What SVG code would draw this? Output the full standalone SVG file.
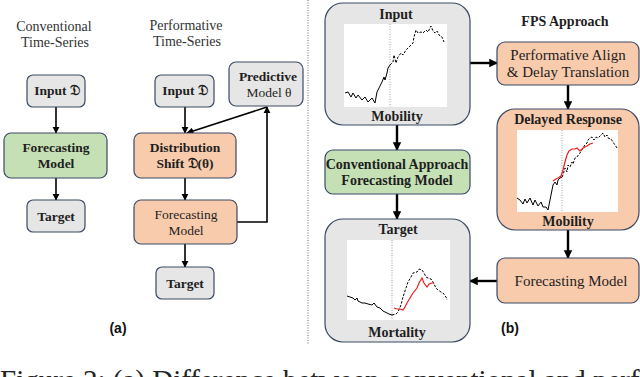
<svg xmlns="http://www.w3.org/2000/svg" width="640" height="377" viewBox="0 0 640 377">
<defs>
<style>
.gray{fill:#e7e6e6;stroke:#3b4a66;stroke-width:1.2}
.green{fill:#c5e0b4;stroke:#3b4a66;stroke-width:1.2}
.orange{fill:#f8cbad;stroke:#3b4a66;stroke-width:1.2}
.t{font-family:"Liberation Serif","DejaVu Serif",serif;font-weight:bold;fill:#1e1e1e;text-anchor:middle}
.n{font-weight:normal}
.s13{font-size:13.5px}
.s14{font-size:14px}
.s15{font-size:15px}
.hd{font-family:"Liberation Serif","DejaVu Serif",serif;font-size:14px;fill:#333;text-anchor:middle}
.lab{font-family:"Liberation Sans",Arial,sans-serif;font-weight:bold;font-size:14px;fill:#111;text-anchor:middle}
.c{stroke:#000;fill:none}
.a1{stroke-width:1.6;marker-end:url(#ah)}
.a2{stroke-width:2.4;marker-end:url(#ah2)}
.chart{fill:#fff}
.vd{stroke:#888;stroke-width:0.8;stroke-dasharray:1 1.5}
.ls{fill:none;stroke:#000;stroke-width:1}
.ld{fill:none;stroke:#000;stroke-width:1;stroke-dasharray:2.5 1.5}
.lr{fill:none;stroke:#ee1c1c;stroke-width:1.2}
</style>
<marker id="ah" viewBox="0 0 10 10" refX="9" refY="5" markerWidth="4.5" markerHeight="4.5" orient="auto" markerUnits="strokeWidth"><path d="M0,0 L10,5 L0,10 z" fill="#000"/></marker>
<marker id="ah2" viewBox="0 0 10 10" refX="9" refY="5" markerWidth="3.6" markerHeight="3.6" orient="auto" markerUnits="strokeWidth"><path d="M0,0 L10,5 L0,10 z" fill="#000"/></marker>
</defs>
<rect width="640" height="377" fill="#fff"/>

<!-- divider -->
<line x1="308" y1="0" x2="308" y2="344" stroke="#666" stroke-width="1" stroke-dasharray="1 1.5"/>

<!-- headings -->
<text class="hd" x="54" y="31">Conventional</text>
<text class="hd" x="55" y="47">Time-Series</text>
<text class="hd" x="186" y="30">Performative</text>
<text class="hd" x="187" y="46">Time-Series</text>
<text class="t s14" x="565" y="26">FPS Approach</text>

<!-- connectors -->
<g id="connectors">
<line class="c a1" x1="56" y1="107" x2="56" y2="133"/>
<line class="c a1" x1="56" y1="178" x2="56" y2="200"/>
<line class="c a1" x1="185" y1="107" x2="185" y2="133"/>
<line class="c a1" x1="267" y1="107" x2="187" y2="133"/>
<line class="c a1" x1="185" y1="178" x2="185" y2="200"/>
<line class="c a1" x1="185" y1="244" x2="185" y2="267"/>
<polyline class="c a1" points="237,222 267,222 267,107"/>
<line class="c a2" x1="470" y1="63" x2="497" y2="63"/>
<line class="c a2" x1="568" y1="85" x2="568" y2="109"/>
<line class="c a2" x1="397" y1="125" x2="397" y2="150"/>
<line class="c a2" x1="397" y1="194" x2="397" y2="219"/>
<line class="c a2" x1="568" y1="230" x2="568" y2="258"/>
<line class="c a2" x1="497" y1="281" x2="470" y2="281"/>
</g>

<!-- panel (a) conventional -->
<g id="conv-input"><rect class="gray" x="27" y="75" width="58" height="32" rx="6"/><text class="t s13" x="57" y="95">Input 𝔇</text></g>
<g id="conv-forecast"><rect class="green" x="4" y="133" width="103" height="45" rx="7"/><text class="t s13" x="56" y="152">Forecasting</text><text class="t s13" x="56" y="168">Model</text></g>
<g id="conv-target"><rect class="gray" x="27" y="200" width="58" height="32" rx="6"/><text class="t s13" x="56" y="221">Target</text></g>

<!-- panel (a) performative -->
<g id="perf-input"><rect class="gray" x="155" y="75" width="59" height="32" rx="6"/><text class="t s13" x="185" y="95">Input 𝔇</text></g>
<g id="perf-predictive"><rect class="gray" x="229" y="62" width="74" height="44" rx="7"/><text class="t s13" x="268" y="81">Predictive</text><text class="t s13 n" x="269" y="97">Model θ</text></g>
<g id="perf-shift"><rect class="orange" x="134" y="133" width="102" height="45" rx="7"/><text class="t s13" x="185" y="152">Distribution</text><text class="t s13" x="185" y="168">Shift 𝔇(θ)</text></g>
<g id="perf-forecast"><rect class="orange" x="134" y="200" width="103" height="44" rx="7"/><text class="t s13 n" x="186" y="219">Forecasting</text><text class="t s13 n" x="186" y="235">Model</text></g>
<g id="perf-target"><rect class="gray" x="156" y="267" width="58" height="32" rx="6"/><text class="t s13" x="185" y="288">Target</text></g>
<text class="lab" x="118" y="333">(a)</text>

<!-- panel (b) -->
<g id="fps-input">
<rect class="gray" x="325" y="3" width="145" height="122" rx="18"/>
<text class="t s14" x="396" y="19">Input</text>
<rect class="chart" x="344" y="24" width="103" height="83"/>
<line class="vd" x1="390" y1="24" x2="390" y2="107"/>
<polyline class="ls" points="345,93 348,92 351,97 353,93 356,98 358,95 362,100 365,97 368,102 372,98 375,103 377,92 379,88 382,82 384,77 385,80 387,73 388,68 390,65"/>
<polyline class="ld" points="390,65 393,62 394,55 396,63 398,57 401,53 403,55 406,50 408,48 411,45 413,43 414,37 416,30 418,33 421,32 423,33 426,30 428,32 431,26 433,31 435,33 437,31 439,35 442,37 444,42"/>
<text class="t s14" x="397" y="121">Mobility</text>
</g>

<g id="fps-align"><rect class="orange" x="497" y="42" width="142" height="43" rx="8"/><text class="t s15 n" x="568" y="60">Performative Align</text><text class="t s15 n" x="568" y="77">&amp; Delay Translation</text></g>

<g id="fps-delayed">
<rect class="orange" x="497" y="109" width="142" height="121" rx="18"/>
<text class="t s14" x="568" y="124">Delayed Response</text>
<rect class="chart" x="517" y="130" width="101" height="82"/>
<line class="vd" x1="562" y1="130" x2="562" y2="212"/>
<polyline class="ls" points="517,198 520,200 523,204 525,199 527,203 530,198 533,205 535,200 538,206 541,202 543,207 546,207 548,210 550,200 552,190 553,185 555,182 557,185 558,180 560,178 562,177"/>
<polyline class="ld" points="562,177 563,175 565,168 567,172 568,165 570,167 572,162 573,164 575,158 577,157 580,153 583,148 585,145 587,143 588,140 590,138 592,137 594,140 596,137 598,138 601,135 603,133 605,137 607,135 608,138 611,139 613,142 615,145 617,148"/>
<polyline class="lr" points="553,181 556,179 558,178 561,176 563,170 565,162 567,155 569,151 572,149 575,149 577,148 580,151 583,148 585,147 587,146 590,144 593,143"/>
<text class="t s14" x="568" y="226">Mobility</text>
</g>

<g id="fps-forecast"><rect class="orange" x="497" y="258" width="142" height="45" rx="8"/><text class="t s15 n" x="571" y="286">Forecasting Model</text></g>

<g id="conv-approach"><rect class="green" x="325" y="150" width="145" height="44" rx="8"/><text class="t s14" x="397" y="169">Conventional Approach</text><text class="t s14" x="397" y="185">Forecasting Model</text></g>

<g id="fps-target">
<rect class="gray" x="325" y="219" width="145" height="123" rx="18"/>
<text class="t s14" x="398" y="234">Target</text>
<rect class="chart" x="347" y="240" width="103" height="80"/>
<line class="vd" x1="392" y1="240" x2="392" y2="320"/>
<polyline class="ls" points="347,296 350,297 353,298 355,300 357,298 358,301 362,303 365,303 368,304 372,305 374,303 377,307 380,308 383,311 387,313 389,314 392,315"/>
<polyline class="ld" points="392,315 396,314 398,312 401,305 403,297 406,288 408,282 411,277 413,273 417,272 419,269 422,270 424,273 426,277 428,278 431,279 433,282 436,288 438,290 441,292 443,293 446,297 447,300"/>
<polyline class="lr" points="394,308 397,309 400,309 403,310 405,307 407,303 410,298 413,293 417,288 419,283 422,278 424,283 427,287 429,284 432,283 434,283"/>
<text class="t s14" x="397" y="337">Mortality</text>
</g>
<text class="lab" x="510" y="333">(b)</text>

<!-- clipped caption -->
<text x="0" y="390" style="font-family:'Liberation Serif','Times New Roman',serif;font-size:29px;fill:#222">Figure 2: (a) Difference between conventional and performative</text>
</svg>
